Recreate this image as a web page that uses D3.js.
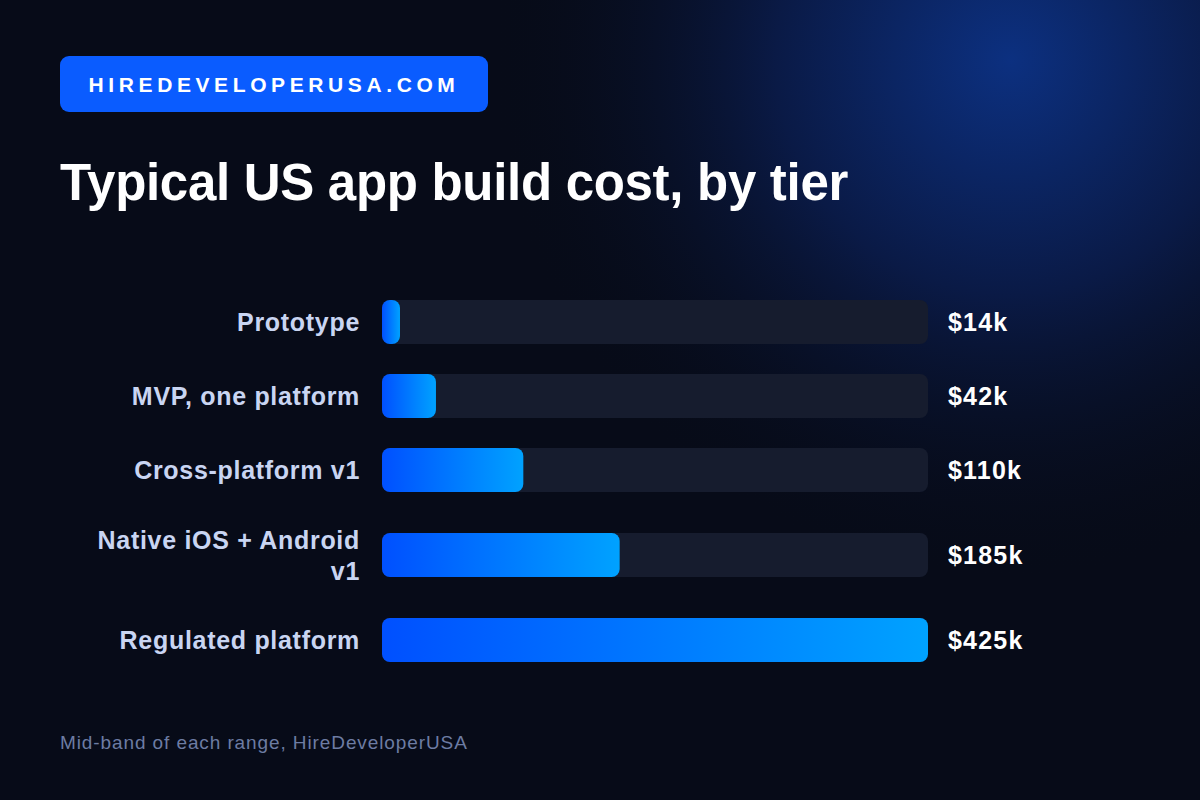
<!DOCTYPE html>
<html><head><meta charset="utf-8">
<script src="https://cdn.jsdelivr.net/npm/d3@7"></script>
<style>body{margin:0;background:#070b18}</style></head>
<body><svg id="c" width="1200" height="800"></svg>
<script>
const categories = ["Prototype","MVP, one platform","Cross-platform v1","Native iOS + Android v1","Regulated platform"];
const values = [14,42,110,185,425];
const valueLabels = ["$14k","$42k","$110k","$185k","$425k"];
const labelLines = [["Prototype"],["MVP, one platform"],["Cross-platform v1"],["Native iOS + Android","v1"],["Regulated platform"]];
const rowCenters = [322,396,470,555,640];

const svg = d3.select("#c");
const defs = svg.append("defs");
const rg = defs.append("radialGradient").attr("id","glow").attr("gradientUnits","userSpaceOnUse")
  .attr("cx",1010).attr("cy",60).attr("r",520);
rg.append("stop").attr("offset",0).attr("stop-color","#0c3080");
rg.append("stop").attr("offset",0.45).attr("stop-color","#0a1a46");
rg.append("stop").attr("offset",1).attr("stop-color","#070b18").attr("stop-opacity",0);
const lg = defs.append("linearGradient").attr("id","bar").attr("x1",0).attr("x2",1);
lg.append("stop").attr("offset",0).attr("stop-color","#0050ff");
lg.append("stop").attr("offset",1).attr("stop-color","#00a2ff");

svg.append("rect").attr("width",1200).attr("height",800).attr("fill","#070b18");
svg.append("rect").attr("width",1200).attr("height",800).attr("fill","url(#glow)");

const F = "Liberation Sans, Arial";
svg.append("rect").attr("x",60).attr("y",56).attr("width",428).attr("height",56).attr("rx",9).attr("fill","#0a5cff");
svg.append("text").attr("x",274).attr("y",92).attr("text-anchor","middle").attr("fill","#fff")
  .attr("font-family",F).attr("font-weight","bold").attr("font-size",21)
  .attr("letter-spacing",4.6).text("HIREDEVELOPERUSA.COM");
svg.append("text").attr("x",60).attr("y",200).attr("fill","#fff")
  .attr("font-family",F).attr("font-weight","bold").attr("font-size",51)
  .attr("letter-spacing",-0.3).text("Typical US app build cost, by tier");

const x = d3.scaleLinear().domain([0,425]).range([382,928]);
const bh = 44;
categories.forEach((c,i)=>{
  const cy = rowCenters[i];
  svg.append("rect").attr("x",x(0)).attr("y",cy-bh/2).attr("width",x(425)-x(0)).attr("height",bh).attr("rx",8).attr("fill","#161c2e");
  svg.append("rect").attr("x",x(0)).attr("y",cy-bh/2).attr("width",Math.max(16,x(values[i])-x(0))).attr("height",bh).attr("rx",8).attr("fill","url(#bar)");
  const lines = labelLines[i];
  lines.forEach((l,j)=>{
    svg.append("text").attr("x",360).attr("y",cy+9+(j-(lines.length-1)/2)*31).attr("text-anchor","end")
      .attr("fill","#c9d5f2").attr("font-family",F).attr("font-weight","bold").attr("font-size",25)
      .attr("letter-spacing",0.7).text(l);
  });
  svg.append("text").attr("x",948).attr("y",cy+9).attr("fill","#fff")
    .attr("font-family",F).attr("font-weight","bold").attr("font-size",25).attr("letter-spacing",1.2).text(valueLabels[i]);
});
svg.append("text").attr("x",60).attr("y",749).attr("fill","#6d7ca3")
  .attr("font-family",F).attr("font-size",19).attr("letter-spacing",0.9).text("Mid-band of each range, HireDeveloperUSA");
</script></body></html>
